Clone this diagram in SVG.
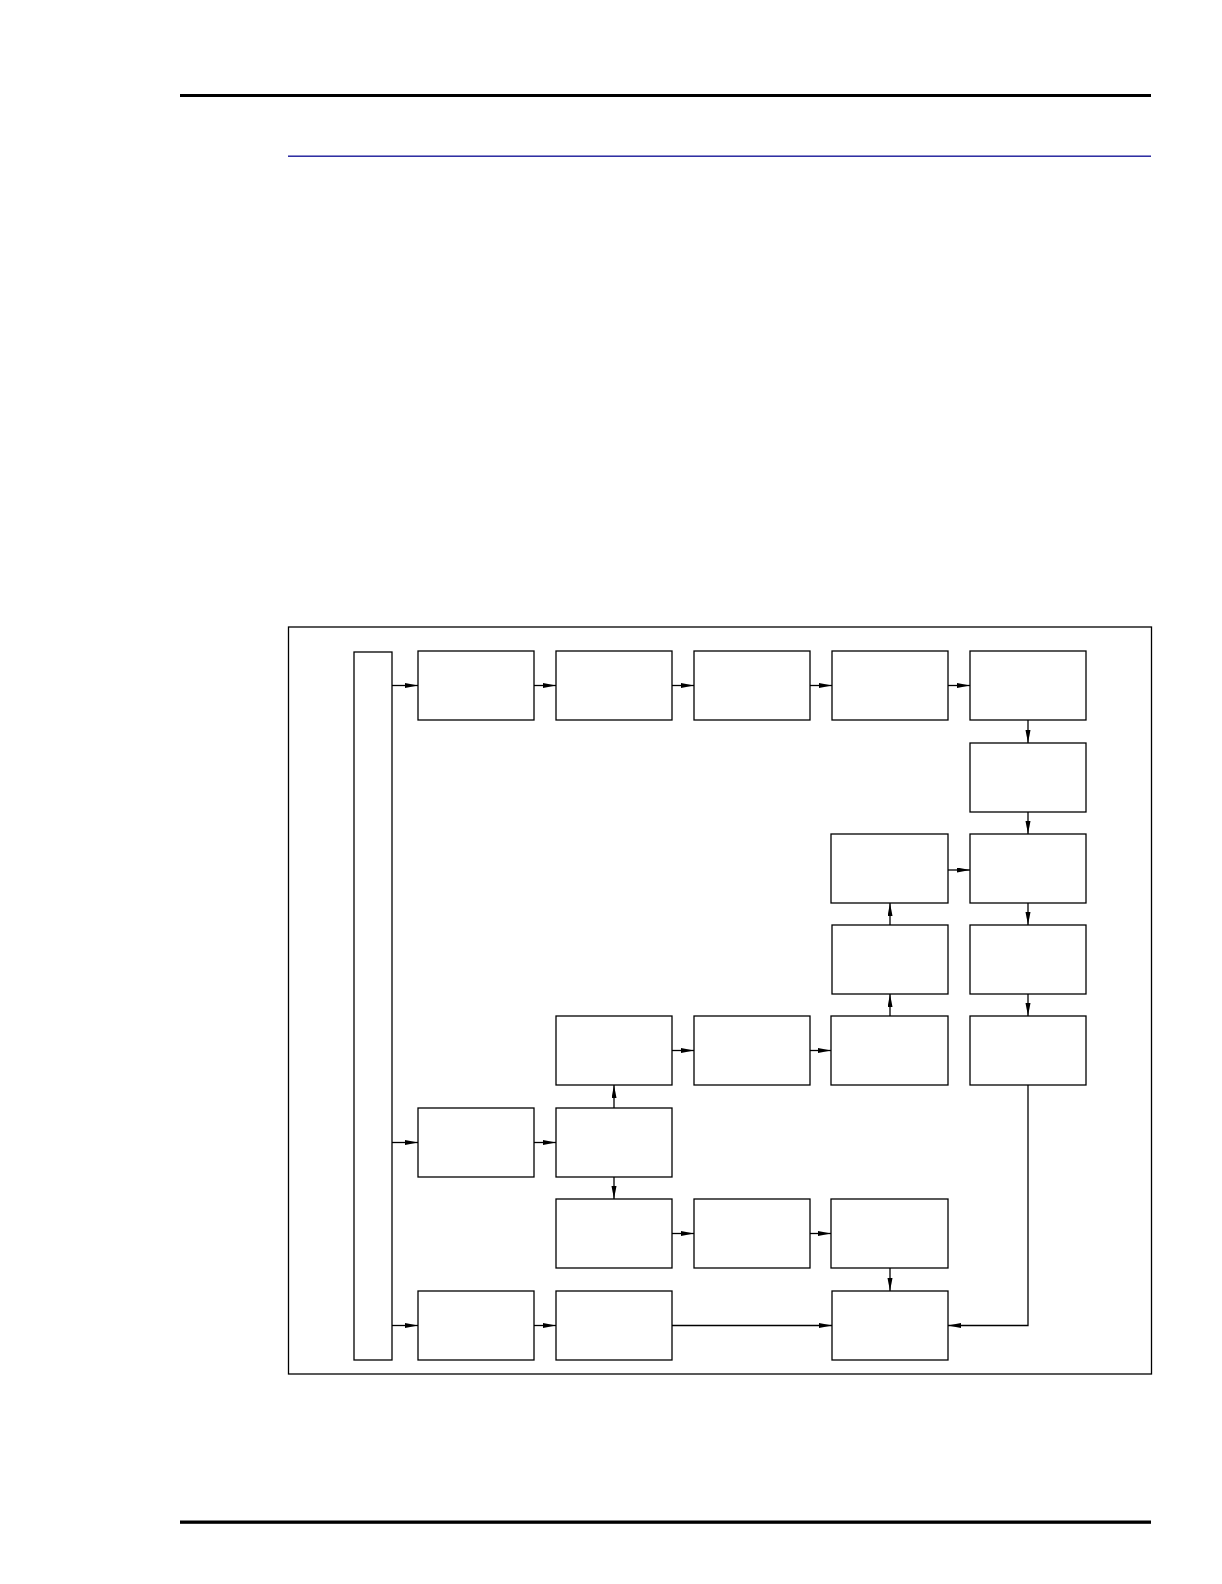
<svg xmlns="http://www.w3.org/2000/svg" width="1222" height="1584" viewBox="0 0 1222 1584">
<defs>
<style>
.box{fill:#fff;stroke:#000;stroke-width:1.3}
.c{fill:none;stroke:#000;stroke-width:1.3}
</style>
<marker id="ah" markerUnits="userSpaceOnUse" markerWidth="14" markerHeight="6" refX="13" refY="2.5" orient="auto">
<path d="M0,0 L13,2.5 L0,5 Z" fill="#000"/>
</marker>
</defs>
<rect width="1222" height="1584" fill="#fff"/>
<g id="page">
<rect x="180" y="94" width="971" height="3" fill="#000"/>
<rect x="288" y="155.5" width="863" height="1.4" fill="#1a1a9a"/>
<rect x="180" y="1520.5" width="971" height="3.3" fill="#000"/>
<rect x="288.5" y="627" width="863" height="747" fill="none" stroke="#000" stroke-width="1.3"/>
</g>
<g id="bar"><rect class="box" x="354" y="652" width="38" height="708"/></g>
<g id="r1c1"><rect class="box" x="418" y="651" width="116" height="69"/></g>
<g id="r1c2"><rect class="box" x="556" y="651" width="116" height="69"/></g>
<g id="r1c3"><rect class="box" x="694" y="651" width="116" height="69"/></g>
<g id="r1c4"><rect class="box" x="832" y="651" width="116" height="69"/></g>
<g id="r1c5"><rect class="box" x="970" y="651" width="116" height="69"/></g>
<g id="r2c5"><rect class="box" x="970" y="743" width="116" height="69"/></g>
<g id="r3c4"><rect class="box" x="831" y="834" width="117" height="69"/></g>
<g id="r3c5"><rect class="box" x="970" y="834" width="116" height="69"/></g>
<g id="r4c4"><rect class="box" x="832" y="925" width="116" height="69"/></g>
<g id="r4c5"><rect class="box" x="970" y="925" width="116" height="69"/></g>
<g id="r5c2"><rect class="box" x="556" y="1016" width="116" height="69"/></g>
<g id="r5c3"><rect class="box" x="694" y="1016" width="116" height="69"/></g>
<g id="r5c4"><rect class="box" x="831" y="1016" width="117" height="69"/></g>
<g id="r5c5"><rect class="box" x="970" y="1016" width="116" height="69"/></g>
<g id="r6c1"><rect class="box" x="418" y="1108" width="116" height="69"/></g>
<g id="r6c2"><rect class="box" x="556" y="1108" width="116" height="69"/></g>
<g id="r7c2"><rect class="box" x="556" y="1199" width="116" height="69"/></g>
<g id="r7c3"><rect class="box" x="694" y="1199" width="116" height="69"/></g>
<g id="r7c4"><rect class="box" x="831" y="1199" width="117" height="69"/></g>
<g id="r8c1"><rect class="box" x="418" y="1291" width="116" height="69"/></g>
<g id="r8c2"><rect class="box" x="556" y="1291" width="116" height="69"/></g>
<g id="r8c4"><rect class="box" x="832" y="1291" width="116" height="69"/></g>
<g id="connectors" class="c">
<line class="c" x1="392" y1="685.5" x2="418" y2="685.5" marker-end="url(#ah)"/>
<line class="c" x1="392" y1="1142.5" x2="418" y2="1142.5" marker-end="url(#ah)"/>
<line class="c" x1="392" y1="1325.5" x2="418" y2="1325.5" marker-end="url(#ah)"/>
<line class="c" x1="534" y1="685.5" x2="556" y2="685.5" marker-end="url(#ah)"/>
<line class="c" x1="672" y1="685.5" x2="694" y2="685.5" marker-end="url(#ah)"/>
<line class="c" x1="810" y1="685.5" x2="832" y2="685.5" marker-end="url(#ah)"/>
<line class="c" x1="948" y1="685.5" x2="970" y2="685.5" marker-end="url(#ah)"/>
<line class="c" x1="1028" y1="720" x2="1028" y2="743" marker-end="url(#ah)"/>
<line class="c" x1="1028" y1="812" x2="1028" y2="834" marker-end="url(#ah)"/>
<line class="c" x1="1028" y1="903" x2="1028" y2="925" marker-end="url(#ah)"/>
<line class="c" x1="1028" y1="994" x2="1028" y2="1016" marker-end="url(#ah)"/>
<line class="c" x1="948" y1="870" x2="970" y2="870" marker-end="url(#ah)"/>
<line class="c" x1="890" y1="925" x2="890" y2="903" marker-end="url(#ah)"/>
<line class="c" x1="890" y1="1016" x2="890" y2="994" marker-end="url(#ah)"/>
<line class="c" x1="672" y1="1050.5" x2="694" y2="1050.5" marker-end="url(#ah)"/>
<line class="c" x1="810" y1="1050.5" x2="831" y2="1050.5" marker-end="url(#ah)"/>
<line class="c" x1="534" y1="1142.5" x2="556" y2="1142.5" marker-end="url(#ah)"/>
<line class="c" x1="614" y1="1108" x2="614" y2="1085" marker-end="url(#ah)"/>
<line class="c" x1="614" y1="1177" x2="614" y2="1199" marker-end="url(#ah)"/>
<line class="c" x1="672" y1="1233.5" x2="694" y2="1233.5" marker-end="url(#ah)"/>
<line class="c" x1="810" y1="1233.5" x2="831" y2="1233.5" marker-end="url(#ah)"/>
<line class="c" x1="890" y1="1268" x2="890" y2="1291" marker-end="url(#ah)"/>
<line class="c" x1="534" y1="1325.5" x2="556" y2="1325.5" marker-end="url(#ah)"/>
<line class="c" x1="672" y1="1325.5" x2="832" y2="1325.5" marker-end="url(#ah)"/>
<polyline class="c" points="1028,1085 1028,1325.5 948,1325.5" marker-end="url(#ah)"/>
</g>
</svg>
